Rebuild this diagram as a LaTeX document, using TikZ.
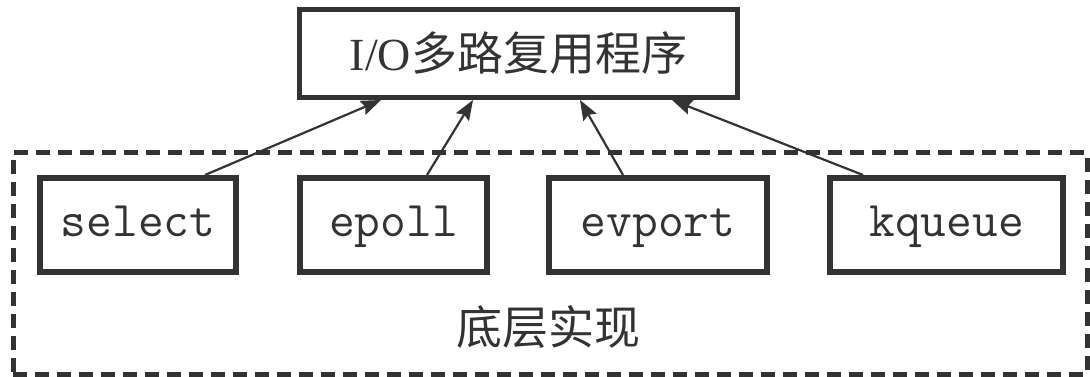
\documentclass[tikz,border=0pt]{standalone}
\usepackage{fontspec}
\setmainfont{Liberation Serif}
\newfontfamily\cjk{Noto Sans CJK SC}
\usetikzlibrary{arrows.meta}
\definecolor{ink}{HTML}{333333}
\tikzset{
  codebox/.style={draw=ink, line width=6pt, inner sep=0pt, minimum height=94pt, text=ink,
    text height=32pt, text depth=10pt,
    font=\ttfamily\fontsize{50}{54}\selectfont},
  topbox/.style={draw=ink, line width=5pt, inner sep=0pt, minimum width=438pt, minimum height=88pt, text=ink,
    font=\fontsize{46}{50}\selectfont},
  groupbox/.style={draw=ink, line width=5pt, dash pattern=on 14pt off 8pt, inner sep=0pt,
    minimum width=1074pt, minimum height=221pt},
  grouplabel/.style={text=ink, font=\cjk\fontsize{46}{50}\selectfont, inner sep=0pt},
  conn/.style={draw=ink, line width=2.2pt, -{Stealth[length=20pt,width=15pt,inset=3pt]}}
}
\begin{document}
\begin{tikzpicture}[x=1pt,y=-1pt]
\useasboundingbox (0,0) rectangle (1090,377);
\node[groupbox] (impl) at (550,263.5) {};
\node[grouplabel] (impllabel) at (548,327) {底层实现};
\node[topbox] (top) at (518.5,53.5) {I/O{\cjk 多路复用程序}};
\node[codebox, minimum width=196pt] (select) at (138,225) {select};
\node[codebox, minimum width=187pt] (epoll) at (393.5,225) {epoll};
\node[codebox, minimum width=218pt] (evport) at (658,225) {evport};
\node[codebox, minimum width=233pt] (kqueue) at (946.5,225) {kqueue};
\draw[conn] ([xshift=67pt]select.north) -- ([xshift=-137.5pt]top.south);
\draw[conn] ([xshift=33.5pt]epoll.north) -- ([xshift=-45.5pt]top.south);
\draw[conn] ([xshift=-35pt]evport.north) -- ([xshift=61.5pt]top.south);
\draw[conn] ([xshift=-83.5pt]kqueue.north) -- ([xshift=153.5pt]top.south);
\end{tikzpicture}
\end{document}
